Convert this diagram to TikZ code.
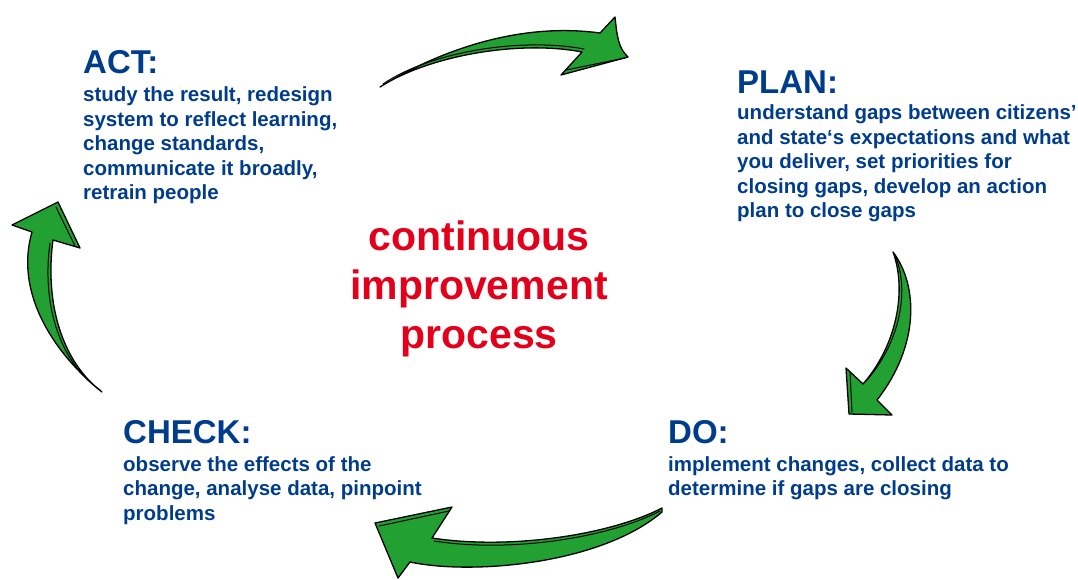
\documentclass[tikz,border=0pt]{standalone}
\usepackage{fontspec}
\setmainfont{Liberation Sans}
\definecolor{pblue}{RGB}{0,60,140}
\definecolor{pred}{RGB}{227,0,27}
\definecolor{pgreen}{RGB}{34,160,50}
\tikzset{
  head/.style={anchor=base west, inner sep=0pt, text=pblue, font=\fontsize{33}{40}\selectfont\bfseries},
  body/.style={anchor=base west, inner sep=0pt, text=pblue, align=left, font=\fontsize{20.5}{24.5}\selectfont\bfseries},
  center/.style={anchor=base, inner sep=0pt, text=pred, font=\fontsize{41}{49}\selectfont\bfseries},
  arrowshape/.style={fill=pgreen, draw=black, line width=1.3pt, line join=round},
  stripline/.style={draw=black, line width=1pt, line cap=round}
}
\begin{document}
\begin{tikzpicture}[x=1pt,y=-1pt]
\useasboundingbox (0,0) rectangle (1078,579);
% texts (body nodes: base anchor = baseline of last line)
\node[head] (acth) at (83,73) {ACT:};
\node[body] (actb) at (83,199.5) {study the result, redesign\\system to reflect learning,\\change standards,\\communicate it broadly,\\retrain people};
\node[head] (planh) at (737,93) {PLAN:};
\node[body] (planb) at (737,217.5) {understand gaps between citizens’\\and state‘s expectations and what\\you deliver, set priorities for\\closing gaps, develop an action\\plan to close gaps};
\node[head] (checkh) at (123,443) {CHECK:};
\node[body] (checkb) at (123,520) {observe the effects of the\\change, analyse data, pinpoint\\problems};
\node[head] (doh) at (668,443) {DO:};
\node[body] (dob) at (668,495.5) {implement changes, collect data to\\determine if gaps are closing};
\node[center] (c1) at (479,250.7) {continuous};
\node[center] (c2) at (479,299.5) {improvement};
\node[center] (c3) at (479,348.3) {process};
% arrow ACT -> PLAN
\path[arrowshape] (380,87) .. controls (440,50) and (520,22) .. (600,33) -- (615,17)
  .. controls (617,35) and (618,48) .. (628,57) -- (561,75) -- (582,52)
  .. controls (520,40) and (430,55) .. cycle;
\draw[stripline] (584,49) .. controls (520,37) and (430,52) .. (383,84);
\draw[stripline] (566,70) -- (625,58);
% arrow PLAN -> DO
\path[arrowshape] (893,252) .. controls (918,285) and (920,345) .. (877,400) -- (892,415)
  -- (849,414) -- (846,368) -- (863,384) .. controls (897,345) and (907,290) .. cycle;
\draw[stripline] (866,381) .. controls (900,343) and (910,290) .. (895,255);
\draw[stripline] (850,372) -- (852,412);
% arrow DO -> CHECK
\path[arrowshape] (662,508) .. controls (610,535) and (510,550) .. (432,538) -- (452,507)
  -- (375,523) -- (398,578) -- (410,562) .. controls (470,575) and (600,565) .. (662,512) -- cycle;
\draw[stripline] (660,511) .. controls (608,538) and (510,553) .. (434,541);
\draw[stripline] (449,511) -- (379,526);
% arrow CHECK -> ACT
\path[arrowshape] (102,392) .. controls (50,350) and (15,290) .. (32,232) -- (12,225)
  -- (58,202) -- (80,248) -- (53,240) .. controls (45,300) and (60,360) .. cycle;
\draw[stripline] (50,243) .. controls (42,300) and (57,360) .. (100,390);
\draw[stripline] (56,207) -- (75,246);
\end{tikzpicture}
\end{document}
